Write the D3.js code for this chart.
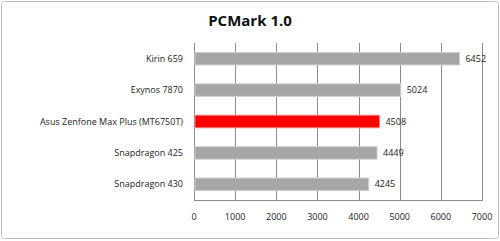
<!DOCTYPE html>
<html>
<head>
<meta charset="utf-8">
<script src="https://cdn.jsdelivr.net/npm/d3@7"></script>
<style>
  body { margin: 0; background: #fff; }
  svg { display: block; }
</style>
</head>
<body>
<svg id="chart" width="500" height="241"></svg>
<script>
// chart data
const chips = ["Kirin 659", "Exynos 7870", "Asus Zenfone Max Plus (MT6750T)", "Snapdragon 425", "Snapdragon 430"];
const scores = [6452, 5024, 4508, 4449, 4245];
const highlight = "Asus Zenfone Max Plus (MT6750T)";
const ticks = [0, 1000, 2000, 3000, 4000, 5000, 6000, 7000];

let svg = d3.select("#chart");
let font = "'Open Sans', 'Liberation Sans', sans-serif";

// outer frame
svg.append("rect")
    .attr("x", 1.5).attr("y", 1.5)
    .attr("width", 497).attr("height", 237)
    .attr("rx", 3)
    .attr("fill", "#fff")
    .attr("stroke", "#bdbdbd");

svg.append("text")
    .attr("x", 250).attr("y", 26)
    .attr("text-anchor", "middle")
    .style("font-family", font)
    .style("font-weight", "bold")
    .style("font-size", "15px")
    .attr("fill", "#111")
    .text("PCMark 1.0");

let plotLeft = 194, plotRight = 482, plotTop = 43, plotBottom = 200;

let x = d3.scaleLinear().domain([0, 7000]).range([plotLeft, plotRight]);
let y = d3.scaleBand().domain(chips).range([plotTop, plotBottom]).paddingInner(0.6).paddingOuter(0.3);

// gridlines
svg.append("g").selectAll("line")
    .data(ticks)
    .enter().append("line")
    .attr("x1", d => Math.round(x(d)) + 0.5)
    .attr("x2", d => Math.round(x(d)) + 0.5)
    .attr("y1", plotTop).attr("y2", plotBottom)
    .attr("stroke", "#8c8c8c")
    .attr("stroke-width", 1);

svg.append("line")
    .attr("x1", plotLeft).attr("x2", Math.round(x(7000)) + 1)
    .attr("y1", plotBottom + 0.5).attr("y2", plotBottom + 0.5)
    .attr("stroke", "#8c8c8c");

// bars
svg.append("g").selectAll("rect")
    .data(chips)
    .enter().append("rect")
    .attr("x", x(0) + 1)
    .attr("y", d => y(d))
    .attr("width", (d, i) => x(scores[i]) - x(0) - 1)
    .attr("height", y.bandwidth())
    .attr("fill", d => d === highlight ? "#ff0000" : "#a6a6a6")
    .attr("stroke", d => d === highlight ? "#ff8080" : "#cfcfcf")
    .attr("stroke-width", 1);

// value labels
svg.append("g").selectAll("text")
    .data(chips)
    .enter().append("text")
    .attr("x", (d, i) => x(scores[i]) + 6)
    .attr("y", d => y(d) + y.bandwidth() / 2)
    .attr("dy", "0.35em")
    .style("font-family", font)
    .style("font-size", "9px")
    .attr("fill", "#222")
    .text((d, i) => scores[i]);

// category labels
svg.append("g").selectAll("text")
    .data(chips)
    .enter().append("text")
    .attr("x", 183)
    .attr("y", d => y(d) + y.bandwidth() / 2)
    .attr("dy", "0.35em")
    .attr("text-anchor", "end")
    .style("font-family", font)
    .style("font-size", "9px")
    .attr("fill", "#222")
    .text(d => d);

// tick labels
svg.append("g").selectAll("text")
    .data(ticks)
    .enter().append("text")
    .attr("x", d => x(d))
    .attr("y", 217)
    .attr("dy", "0.35em")
    .attr("text-anchor", "middle")
    .style("font-family", font)
    .style("font-size", "9px")
    .attr("fill", "#222")
    .text(d => d);
</script>
</body>
</html>
